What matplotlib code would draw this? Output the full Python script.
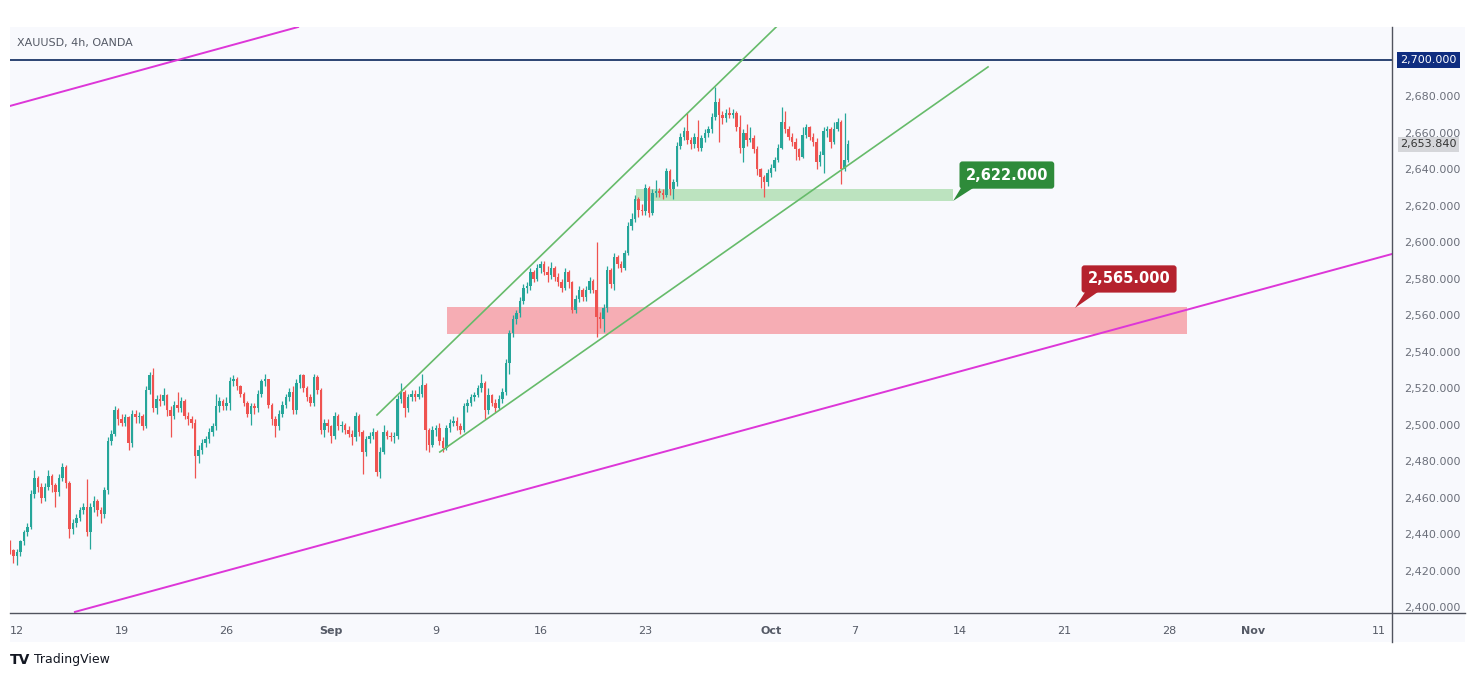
import matplotlib
matplotlib.use("Agg")
import matplotlib.pyplot as plt
import numpy as np
from matplotlib.patches import Rectangle, Polygon
from matplotlib.lines import Line2D

# ---------------- data ----------------
bar_start = -2  # index of first 4h bar (Aug 12 first bar = 0, 30 bars per week)
first_open = 2435.0
closes = [
    2431, 2428, 2430, 2436, 2441, 2444, 2462, 2471, 2466, 2460,
    2466, 2472, 2467, 2463, 2471, 2477, 2468, 2443, 2446, 2449,
    2453, 2455, 2441, 2455, 2458, 2453, 2451, 2464, 2491, 2495,
    2508, 2503, 2501, 2504, 2490, 2506, 2504, 2505, 2499, 2519,
    2527, 2509, 2514, 2513, 2516, 2508, 2505, 2511, 2509, 2513,
    2505, 2503, 2501, 2483, 2486, 2490, 2492, 2496, 2499, 2510,
    2513, 2510, 2512, 2524, 2525, 2521, 2517, 2512, 2506, 2510,
    2509, 2517, 2524, 2525, 2511, 2503, 2499, 2506, 2511, 2515,
    2518, 2508, 2523, 2527, 2520, 2515, 2512, 2526, 2519, 2497,
    2501, 2499, 2494, 2505, 2499, 2500, 2497, 2495, 2493, 2505,
    2496, 2485, 2492, 2494, 2496, 2474, 2485, 2496, 2494, 2493,
    2494, 2514, 2518, 2509, 2515, 2517, 2515, 2517, 2522, 2497,
    2489, 2497, 2498, 2491, 2487, 2498, 2501, 2502, 2499, 2497,
    2510, 2512, 2515, 2516, 2520, 2523, 2508, 2516, 2512, 2509,
    2514, 2518, 2534, 2550, 2558, 2561, 2568, 2575, 2576, 2584,
    2580, 2586, 2588, 2584, 2582, 2586, 2581, 2578, 2575, 2584,
    2578, 2563, 2569, 2574, 2570, 2574, 2579, 2574, 2559, 2558,
    2564, 2585, 2577, 2592, 2588, 2586, 2594, 2609, 2613, 2624,
    2618, 2617, 2630, 2616, 2627, 2628, 2627, 2626, 2639, 2629,
    2633, 2653, 2658, 2661, 2656, 2654, 2658, 2652, 2657, 2660,
    2662, 2669, 2677, 2670, 2668, 2671, 2670, 2671, 2663, 2652,
    2660, 2656, 2657, 2651, 2640, 2636, 2633, 2638, 2641, 2645,
    2652, 2666, 2662, 2658, 2655, 2651, 2647, 2659, 2663, 2658,
    2655, 2644, 2648, 2661, 2662, 2655, 2662, 2666, 2640, 2645,
    2653.84,
]
highs = [
    2437, 2432, 2432, 2437, 2442, 2446, 2464, 2475, 2472, 2468,
    2468, 2475, 2473, 2468, 2473, 2479, 2478, 2469, 2448, 2451,
    2455, 2457, 2470, 2457, 2461, 2459, 2455, 2466, 2493, 2497,
    2510, 2509, 2506, 2506, 2505, 2508, 2508, 2507, 2506, 2521,
    2529, 2531, 2516, 2517, 2520, 2517, 2510, 2513, 2518, 2515,
    2514, 2507, 2505, 2503, 2489, 2492, 2494, 2498, 2501, 2517,
    2515, 2514, 2515, 2526, 2527, 2526, 2522, 2518, 2513, 2512,
    2512, 2519, 2525, 2528, 2525, 2512, 2505, 2508, 2513, 2517,
    2520, 2521, 2525, 2528, 2528, 2521, 2517, 2528, 2527, 2520,
    2503, 2503, 2500, 2507, 2506, 2502, 2501, 2499, 2497, 2507,
    2506, 2497, 2494, 2496, 2498, 2497, 2488, 2500, 2497, 2496,
    2496, 2516, 2523, 2519, 2517, 2519, 2519, 2521, 2528, 2523,
    2498, 2499, 2500, 2501, 2493, 2500, 2503, 2505, 2504, 2501,
    2512, 2514, 2517, 2518, 2522, 2528, 2524, 2520, 2517, 2514,
    2516, 2520, 2536, 2552, 2560, 2563, 2570, 2577, 2578, 2586,
    2585, 2588, 2590, 2590, 2587, 2589, 2587, 2583, 2580, 2586,
    2585, 2579, 2571, 2576, 2575, 2576, 2581, 2580, 2600, 2562,
    2566, 2587, 2586, 2594, 2593, 2590, 2596, 2611, 2616, 2626,
    2625, 2621, 2632, 2631, 2629, 2634, 2630, 2629, 2641, 2640,
    2635, 2655, 2660, 2663, 2671, 2658, 2660, 2667, 2659, 2662,
    2664, 2671, 2685, 2679, 2672, 2673, 2674, 2673, 2672, 2670,
    2662, 2665, 2663, 2659, 2653, 2641, 2637, 2640, 2643, 2647,
    2654, 2674, 2672, 2664, 2660, 2657, 2652, 2663, 2665, 2664,
    2660, 2657, 2650, 2663, 2664, 2663, 2666, 2668, 2667, 2671,
    2656,
]
lows = [
    2429, 2424, 2423, 2428, 2434, 2439, 2443, 2460, 2463, 2457,
    2458, 2464, 2463, 2455, 2461, 2469, 2465, 2438, 2440, 2444,
    2447, 2451, 2439, 2432, 2452, 2450, 2446, 2449, 2462, 2489,
    2494, 2500, 2499, 2499, 2486, 2488, 2501, 2501, 2497, 2498,
    2517, 2507, 2506, 2510, 2511, 2505, 2493, 2503, 2507, 2507,
    2503, 2500, 2498, 2471, 2479, 2484, 2488, 2490, 2494, 2497,
    2507, 2508, 2508, 2508, 2521, 2519, 2515, 2510, 2504, 2500,
    2506, 2507, 2515, 2521, 2509, 2500, 2493, 2497, 2504, 2509,
    2513, 2506, 2506, 2520, 2518, 2513, 2510, 2510, 2517, 2495,
    2493, 2496, 2490, 2492, 2497, 2496, 2495, 2493, 2489, 2491,
    2494, 2473, 2483, 2490, 2492, 2472, 2471, 2484, 2492, 2491,
    2490, 2492, 2512, 2504, 2507, 2513, 2513, 2514, 2515, 2486,
    2485, 2488, 2494, 2489, 2485, 2486, 2496, 2499, 2497, 2495,
    2496, 2507, 2510, 2513, 2515, 2518, 2503, 2506, 2510, 2507,
    2508, 2512, 2516, 2528, 2548, 2555, 2559, 2566, 2572, 2574,
    2578, 2579, 2583, 2582, 2578, 2580, 2579, 2576, 2573, 2574,
    2575, 2561, 2561, 2567, 2568, 2568, 2572, 2572, 2548, 2553,
    2551, 2562, 2575, 2574, 2586, 2584, 2585, 2593, 2607, 2611,
    2614, 2615, 2615, 2614, 2615, 2625, 2625, 2624, 2625, 2626,
    2624, 2631, 2651, 2656, 2654, 2651, 2652, 2650, 2650, 2655,
    2658, 2660, 2667, 2655, 2665, 2666, 2668, 2668, 2661, 2649,
    2644, 2653, 2655, 2649, 2637, 2630, 2625, 2631, 2636, 2639,
    2644, 2651, 2660, 2656, 2653, 2645, 2645, 2646, 2657, 2656,
    2653, 2640, 2642, 2638, 2658, 2652, 2654, 2661, 2632, 2639,
    2644,
]

date_tick_bars = [0, 30, 60, 90, 120, 150, 180, 216, 240, 270, 300, 330, 354, 390]
date_tick_labels = ["12", "19", "26", "Sep", "9", "16", "23", "Oct", "7", "14", "21", "28", "Nov", "11"]
bold_labels = {"Sep", "Oct", "Nov"}
price_ticks = [2400, 2420, 2440, 2460, 2480, 2500, 2520, 2540, 2560, 2580, 2600,
               2620, 2640, 2660, 2680]

resistance_level = 2700.0
last_price = 2653.84
# drawn objects (anchor points: bar index, price)
magenta_lower = [(16.6, 2397.3), (393.8, 2593.6)]
magenta_upper = [(-2.0, 2674.8), (80.5, 2718.1)]
green_upper = [(103.1, 2505.3), (230.0, 2741.5)]
green_lower = [(121.1, 2485.0), (278.1, 2696.2)]
green_zone = (177.3, 268.1, 2622.5, 2629.5)
red_zone = (123.1, 335.1, 2549.8, 2564.5)
# label text, box centre, tail tip, tail base (two points on the box bottom)
green_label = ("2,622.000", (283.5, 2636.9), (268.1, 2622.7), [(270.6, 2630.6), (274.5, 2630.6)])
red_label = ("2,565.000", (318.5, 2579.9), (303.0, 2564.0), [(306.2, 2573.6), (310.2, 2573.6)])

# ---------------- figure ----------------
W, H = 1469, 677
fig = plt.figure(figsize=(W / 100, H / 100), dpi=100)
fig.patch.set_facecolor("white")
bg = "#f8f9fd"

# chart panel background (behind the axes)
fig.patches.append(Rectangle((10 / W, 1 - 642 / H), (1465 - 10) / W, (642 - 27) / H,
                             transform=fig.transFigure, fc=bg, ec="none", zorder=-5))

ax = fig.add_axes([10 / W, 1 - 613 / H, (1392 - 10) / W, (613 - 27) / H])
ax.set_zorder(1)
ax.set_facecolor(bg)
for s in ax.spines.values():
    s.set_visible(False)
ax.set_xlim(-2.0, 393.8)
ax.set_ylim(2396.7, 2718.1)

# candles
x = np.arange(bar_start, bar_start + len(closes))
c = np.array(closes, float)
o = np.array([first_open] + closes[:-1], float)
hi = np.maximum(np.array(highs, float), np.maximum(o, c))
lo = np.minimum(np.array(lows, float), np.minimum(o, c))
up = c >= o
cols = np.where(up, "#26a69a", "#ef5350")
ax.vlines(x, lo, hi, colors=cols, lw=0.9, zorder=4)
ax.bar(x, np.maximum(np.abs(c - o), 0.35), bottom=np.minimum(o, c), width=0.72,
       color=cols, linewidth=0, zorder=5)

# zones
gz = green_zone
ax.add_patch(Rectangle((gz[0], gz[2]), gz[1] - gz[0], gz[3] - gz[2],
                       fc="#a8dcaa", ec="none", alpha=0.75, zorder=2))
rz = red_zone
ax.add_patch(Rectangle((rz[0], rz[2]), rz[1] - rz[0], rz[3] - rz[2],
                       fc="#f6a0a8", ec="none", alpha=0.85, zorder=2))

# lines
ax.axhline(resistance_level, color="#1b3668", lw=1.3, zorder=3)
for seg in (magenta_lower, magenta_upper):
    ax.plot([seg[0][0], seg[1][0]], [seg[0][1], seg[1][1]], color="#dd36d8", lw=1.4, zorder=3)
for seg in (green_upper, green_lower):
    ax.plot([seg[0][0], seg[1][0]], [seg[0][1], seg[1][1]], color="#66bb6a", lw=1.2, zorder=6)

# callouts
for (txt, centre, tip, base), fc in ((green_label, "#2e8b3a"), (red_label, "#b5222e")):
    ax.text(centre[0], centre[1], txt, ha="center", va="center",
            color="white", fontsize=10.5, fontweight="bold", zorder=8,
            bbox=dict(boxstyle="round,pad=0.42,rounding_size=0.2", fc=fc, ec="none"))
    ax.add_patch(Polygon([tip, base[0], base[1]], closed=True, fc=fc, ec="none", zorder=7))

# price axis
ax.yaxis.tick_right()
ax.set_yticks(price_ticks)
ax.set_yticklabels([f"{v:,.3f}" for v in price_ticks], fontsize=8, color="#6b6f7a")
ax.tick_params(axis="y", length=0, pad=9)
ytr = ax.get_yaxis_transform()
ax.text(1.0058, resistance_level, f"{resistance_level:,.3f}", transform=ytr, ha="left",
        va="center", fontsize=8, color="white", zorder=10, clip_on=False,
        bbox=dict(boxstyle="square,pad=0.3", fc="#0f2d80", ec="none"))
ax.text(1.0058, last_price, f"{last_price:,.3f}", transform=ytr, ha="left",
        va="center", fontsize=8, color="#333333", zorder=10, clip_on=False,
        bbox=dict(boxstyle="square,pad=0.22", fc="#d5d6da", ec="none"))

# date axis
ax.set_xticks(date_tick_bars)
ax.set_xticklabels(date_tick_labels, fontsize=8, color="#555a66")
for lab in ax.get_xticklabels():
    if lab.get_text() in bold_labels:
        lab.set_fontweight("bold")
ax.tick_params(axis="x", length=0, pad=9)

# axis borders
fig.lines.append(Line2D([10 / W, 1465 / W], [1 - 613 / H, 1 - 613 / H],
                        transform=fig.transFigure, color="#50535e", lw=1.0, zorder=5))
fig.lines.append(Line2D([1392 / W, 1392 / W], [1 - 27 / H, 1 - 642 / H],
                        transform=fig.transFigure, color="#50535e", lw=1.0, zorder=5))

# header & logo
fig.text(17 / W, 1 - 43 / H, "XAUUSD, 4h, OANDA", fontsize=8, color="#555a66",
         ha="left", va="center", zorder=6)
fig.text(10 / W, 1 - 660 / H, "TV", fontsize=10, fontweight="heavy", color="#131722",
         ha="left", va="center")
fig.text(34 / W, 1 - 660 / H, "TradingView", fontsize=9, color="#131722",
         ha="left", va="center")

fig.savefig("out.png", dpi=100, facecolor="white")
